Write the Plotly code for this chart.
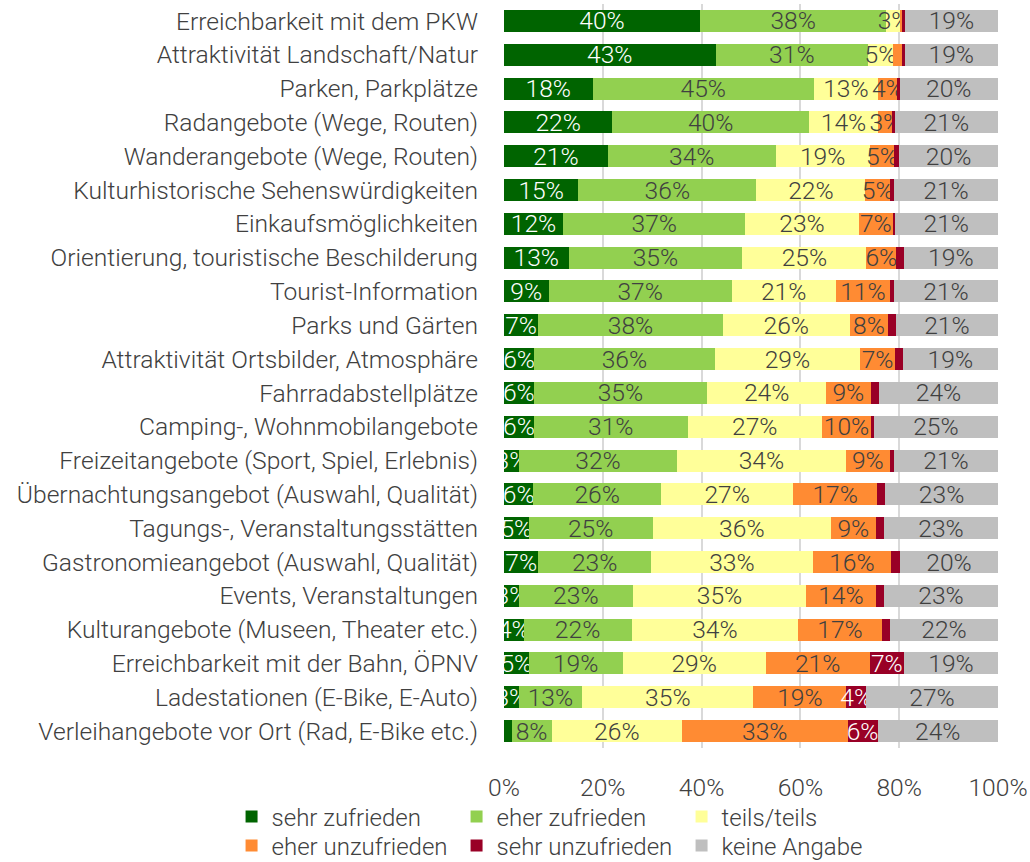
import plotly.graph_objects as go

categories = [
    "Erreichbarkeit mit dem PKW",
    "Attraktivität Landschaft/Natur",
    "Parken, Parkplätze",
    "Radangebote (Wege, Routen)",
    "Wanderangebote (Wege, Routen)",
    "Kulturhistorische Sehenswürdigkeiten",
    "Einkaufsmöglichkeiten",
    "Orientierung, touristische Beschilderung",
    "Tourist-Information",
    "Parks und Gärten",
    "Attraktivität Ortsbilder, Atmosphäre",
    "Fahrradabstellplätze",
    "Camping-, Wohnmobilangebote",
    "Freizeitangebote (Sport, Spiel, Erlebnis)",
    "Übernachtungsangebot (Auswahl, Qualität)",
    "Tagungs-, Veranstaltungsstätten",
    "Gastronomieangebot (Auswahl, Qualität)",
    "Events, Veranstaltungen",
    "Kulturangebote (Museen, Theater etc.)",
    "Erreichbarkeit mit der Bahn, ÖPNV",
    "Ladestationen (E-Bike, E-Auto)",
    "Verleihangebote vor Ort (Rad, E-Bike etc.)",
]

sehr_zufrieden = [40, 43, 18, 22, 21, 15, 12, 13, 9, 7, 6, 6, 6, 3, 6, 5, 7, 3, 4, 5, 3, 1.5]
eher_zufrieden = [38, 31, 45, 40, 34, 36, 37, 35, 37, 38, 36, 35, 31, 32, 26, 25, 23, 23, 22, 19, 13, 8]
teils_teils = [3, 5, 13, 14, 19, 22, 23, 25, 21, 26, 29, 24, 27, 34, 27, 36, 33, 35, 34, 29, 35, 26]
eher_unzufrieden = [0.4, 2, 4, 3, 5, 5, 7, 6, 11, 8, 7, 9, 10, 9, 17, 9, 16, 14, 17, 21, 19, 33]
sehr_unzufrieden = [0.4, 0.4, 0.4, 0.4, 1, 0.8, 0.3, 1.5, 0.8, 1.5, 1.5, 1.7, 0.5, 0.8, 1.7, 1.7, 1.8, 1.7, 1.7, 7, 4, 6]
keine_angabe = [19, 19, 20, 21, 20, 21, 21, 19, 21, 21, 19, 24, 25, 21, 23, 23, 20, 23, 22, 19, 27, 24]

series_names = ["sehr zufrieden", "eher zufrieden", "teils/teils",
                "eher unzufrieden", "sehr unzufrieden", "keine Angabe"]
series_values = [sehr_zufrieden, eher_zufrieden, teils_teils,
                 eher_unzufrieden, sehr_unzufrieden, keine_angabe]
colors = ["#006400", "#92D050", "#FFFF99", "#FF8B33", "#990026", "#BFBFBF"]
text_colors = ["#FFFFFF", "#404040", "#404040", "#404040", "#FFFFFF", "#404040"]
legend_ids = ["legend", "legend", "legend", "legend2", "legend2", "legend2"]

tick_vals = [0, 20, 40, 60, 80, 100]
tick_text = ["0%", "20%", "40%", "60%", "80%", "100%"]

FONT = "Roboto"
FS = 24.6

fig = go.Figure()
for name, vals, col, tcol, lg in zip(series_names, series_values, colors, text_colors, legend_ids):
    labels = [f"{round(v)}%" if v >= 2.5 else "" for v in vals]
    fig.add_trace(go.Bar(
        y=categories, x=vals, name=name, orientation="h", legend=lg,
        marker=dict(color=col, line=dict(width=0)),
        text=labels, textposition="inside", insidetextanchor="middle",
        textangle=0, constraintext="none", cliponaxis=True,
        textfont=dict(color=tcol, size=FS, family=FONT, weight=300),
        hoverinfo="skip",
    ))

legend_common = dict(orientation="h", x=-0.5515, xanchor="left",
                     entrywidth=180, entrywidthmode="pixels",
                     font=dict(size=24, family=FONT, color="#404040", weight=300),
                     traceorder="normal", itemclick=False, tracegroupgap=0,
                     bgcolor="rgba(0,0,0,0)")

fig.update_layout(
    barmode="stack", barnorm="percent", bargap=0.35,
    width=1030, height=862,
    margin=dict(l=504, r=32, t=4, b=114, autoexpand=False),
    plot_bgcolor="white", paper_bgcolor="white",
    font=dict(family=FONT, size=FS, color="#404040", weight=300),
    showlegend=True,
    legend=dict(**legend_common, y=-0.0927, yanchor="middle"),
    legend2=dict(**legend_common, y=-0.1317, yanchor="middle"),
)
fig.update_xaxes(range=[0, 100], tickvals=tick_vals, ticktext=tick_text,
                 showgrid=True, gridcolor="#D9D9D9", gridwidth=2,
                 zeroline=False, showline=False, ticks="",
                 ticklabelstandoff=22, tickfont=dict(size=FS))
fig.update_yaxes(autorange="reversed", showgrid=False, ticks="",
                 ticklabelstandoff=25, tickfont=dict(size=FS), showline=False)

fig.write_html("out.html", config={"displayModeBar": False},
               post_script="document.body.style.margin='0';")
